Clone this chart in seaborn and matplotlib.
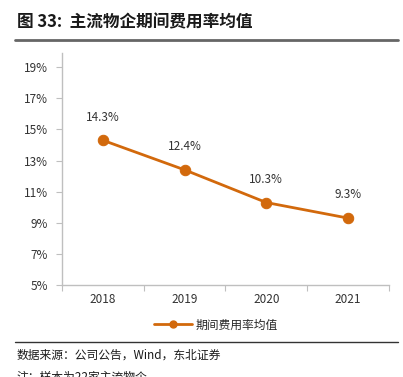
import seaborn as sns
import matplotlib.pyplot as plt
import pandas as pd
from matplotlib.lines import Line2D

sns.set_style("white")
plt.rcParams['font.family'] = ['Noto Sans CJK SC', 'DejaVu Sans']

years = ["2018", "2019", "2020", "2021"]
rates = [14.3, 12.4, 10.3, 9.3]
series_name = "期间费用率均值"
ytick_vals = [5, 7, 9, 11, 13, 15, 17, 19]

df = pd.DataFrame({"year": years, "rate": rates})
df["pos"] = range(len(years))

orange = "#D2690C"
grey = "#BFBFBF"

fig = plt.figure(figsize=(4.03, 3.77), dpi=100)
ax = fig.add_axes([0.154, 0.244, 0.811, 0.615])

sns.lineplot(data=df, x="pos", y="rate", ax=ax, color=orange, linewidth=2,
             marker="o", markersize=7.5, markeredgecolor=orange, legend=False)

for x, y in zip(df["pos"], df["rate"]):
    ax.annotate(f"{y:.1f}%", (x, y), xytext=(0, 12), textcoords="offset points",
                ha="center", va="bottom", fontsize=8.5, color="#333333")

ax.set_xlim(-0.5, 3.5)
ax.set_ylim(5, 19.9)
ax.set_yticks(ytick_vals)
ax.set_yticklabels([f"{v}%" for v in ytick_vals], fontsize=8.5, color="#333333")
ax.set_xticks([-0.5, 0.5, 1.5, 2.5, 3.5])
ax.set_xticklabels([])
ax.set_xticks(range(len(years)), minor=True)
ax.set_xticklabels(years, minor=True, fontsize=8.5, color="#333333")
ax.tick_params(axis="x", which="major", length=4, color=grey, direction="out", bottom=True)
ax.tick_params(axis="x", which="minor", length=0, pad=6)
ax.tick_params(axis="y", length=4, color=grey, direction="out", left=True, pad=6)
ax.set_xlabel("")
ax.set_ylabel("")
for s in ["top", "right"]:
    ax.spines[s].set_visible(False)
for s in ["left", "bottom"]:
    ax.spines[s].set_color(grey)
    ax.spines[s].set_linewidth(1)

handle = Line2D([], [], color=orange, linewidth=2, marker="o", markersize=5)
fig.legend([handle], [series_name], loc="center", bbox_to_anchor=(0.535, 0.138),
           frameon=False, fontsize=8.5, handlelength=3.2, handletextpad=0.3)

fig.text(0.042, 0.94, "图 33:  主流物企期间费用率均值", fontsize=12, fontweight="bold",
         ha="left", va="center", color="#1a1a1a")
fig.add_artist(Line2D([0.037, 0.988], [0.894, 0.894], color="#666666", linewidth=2))
fig.add_artist(Line2D([0.037, 0.988], [0.093, 0.093], color="#333333", linewidth=1))
fig.text(0.042, 0.058, "数据来源：公司公告，Wind，东北证券", fontsize=8.5,
         ha="left", va="center", color="#1a1a1a")
fig.text(0.042, 0.0, "注：样本为22家主流物企", fontsize=8.5,
         ha="left", va="center", color="#1a1a1a")

fig.savefig("out.png", dpi=100)
